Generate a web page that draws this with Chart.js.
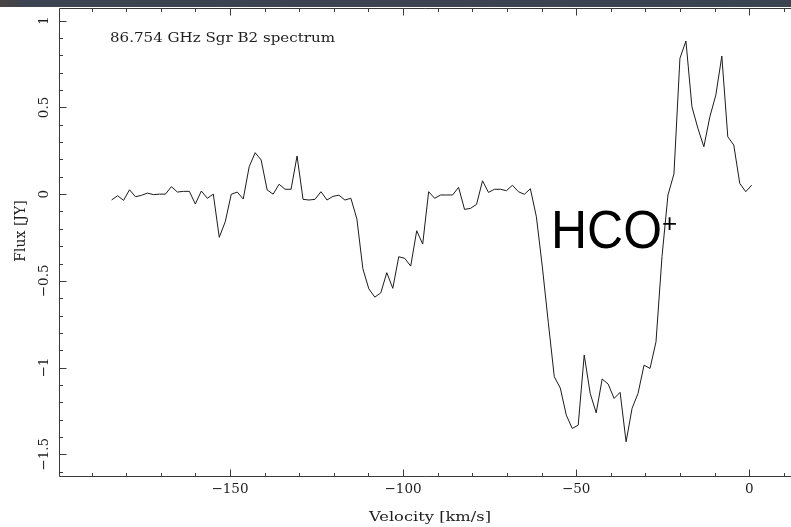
<!DOCTYPE html>
<html>
<head>
<meta charset="utf-8">
<script src="https://cdn.jsdelivr.net/npm/chart.js@4/dist/chart.umd.min.js"></script>
<style>
  html, body { margin: 0; padding: 0; background: #ffffff; }
  #wrap { width: 791px; height: 527px; position: relative; }
  canvas { display: block; }
</style>
</head>
<body>
<div id="wrap"><canvas id="spec" width="791" height="527"></canvas></div>
<script>
// Channel velocities (km/s) of the 86.754 GHz spectrum
const velocity = [
  -184.20, -182.47, -180.74, -179.02, -177.29, -175.56, -173.83, -172.10, -170.38, -168.65,
  -166.92, -165.19, -163.46, -161.74, -160.01, -158.28, -156.55, -154.82, -153.10, -151.37,
  -149.64, -147.91, -146.18, -144.46, -142.73, -141.00, -139.27, -137.54, -135.82, -134.09,
  -132.36, -130.63, -128.90, -127.18, -125.45, -123.72, -121.99, -120.26, -118.54, -116.81,
  -115.08, -113.35, -111.62, -109.90, -108.17, -106.44, -104.71, -102.98, -101.26, -99.53,
  -97.80, -96.07, -94.34, -92.62, -90.89, -89.16, -87.43, -85.70, -83.98, -82.25,
  -80.52, -78.79, -77.06, -75.34, -73.61, -71.88, -70.15, -68.42, -66.70, -64.97,
  -63.24, -61.51, -59.78, -58.06, -56.33, -54.60, -52.87, -51.14, -49.42, -47.69,
  -45.96, -44.23, -42.50, -40.78, -39.05, -37.32, -35.59, -33.86, -32.14, -30.41,
  -28.68, -26.95, -25.22, -23.50, -21.77, -20.04, -18.31, -16.58, -14.86, -13.13,
  -11.40, -9.67, -7.94, -6.22, -4.49, -2.76, -1.03, 0.70
];

// Flux density per channel (Jy)
const flux = [
  -0.034, -0.009, -0.036, 0.025, -0.015, -0.007, 0.006, -0.003, 0.000, 0.000,
  0.043, 0.012, 0.016, 0.016, -0.057, 0.018, -0.024, 0.000, -0.249, -0.159,
  -0.001, 0.012, -0.028, 0.158, 0.239, 0.197, 0.024, 0.000, 0.057, 0.028,
  0.028, 0.220, -0.030, -0.034, -0.030, 0.014, -0.034, -0.013, -0.006, -0.034,
  -0.024, -0.143, -0.430, -0.546, -0.594, -0.569, -0.453, -0.543, -0.361, -0.370,
  -0.415, -0.211, -0.288, 0.014, -0.024, -0.005, -0.005, -0.005, 0.039, -0.088,
  -0.082, -0.059, 0.077, 0.010, 0.028, 0.028, 0.020, 0.051, 0.014, -0.001,
  0.031, -0.130, -0.420, -0.740, -1.053, -1.118, -1.274, -1.351, -1.332, -0.928,
  -1.149, -1.261, -1.066, -1.095, -1.178, -1.143, -1.428, -1.235, -1.149, -0.986,
  -1.005, -0.851, -0.360, -0.005, 0.116, 0.783, 0.883, 0.504, 0.380, 0.273,
  0.446, 0.571, 0.796, 0.331, 0.283, 0.062, 0.014, 0.052
];

// Axis ticks and their labels
const xMajorTicks = [-150, -100, -50, 0];
const xTickLabels = ['\u2212150', '\u2212100', '\u221250', '0'];
const yMajorTicks = [-1.5, -1, -0.5, 0, 0.5, 1];
const yTickLabels = ['\u22121.5', '\u22121', '\u22120.5', '0', '0.5', '1'];
const xMinorStep = 10;
const yMinorStep = 0.1;

const titleText = '86.754 GHz Sgr B2 spectrum';
const xAxisTitle = 'Velocity [km/s]';
const yAxisTitle = 'Flux [JY]';
const lineName = 'HCO';

const points = velocity.map((v, i) => ({ x: v, y: flux[i] }));

const INK = '#1e1e1e';
const SERIF = '"DejaVu Serif", "Liberation Serif", serif';

// Text drawn at a given spot, stretched horizontally to a set width
function wideText(ctx, text, x, y, width, align) {
  const w = ctx.measureText(text).width;
  const s = width / w;
  ctx.save();
  ctx.translate(x, y);
  ctx.scale(s, 1);
  ctx.textAlign = align;
  ctx.fillText(text, 0, 0);
  ctx.restore();
}

// Boxed frame with inward ticks, drawn from the chart's own scales
const framePlugin = {
  id: 'pgFrame',
  beforeDraw(chart) {
    const ctx = chart.ctx;
    ctx.save();
    ctx.fillStyle = '#ffffff';
    ctx.fillRect(0, 0, chart.width, chart.height);
    const g = ctx.createLinearGradient(0, 0, chart.width, 0);
    g.addColorStop(0, '#4a4440');
    g.addColorStop(0.03, '#3b4450');
    g.addColorStop(0.5, '#3d4350');
    g.addColorStop(1, '#3a4450');
    ctx.fillStyle = g;
    ctx.fillRect(0, 0, chart.width, 7);
    ctx.restore();
  },
  afterDraw(chart) {
    const ctx = chart.ctx;
    const a = chart.chartArea;
    const xs = chart.scales.x;
    const ys = chart.scales.y;
    const L = Math.round(a.left) + 0.5;
    const T = Math.round(a.top) + 0.5;
    const B = Math.round(a.bottom) - 0.5;
    const R = chart.width;

    ctx.save();
    ctx.strokeStyle = '#3a3a3a';
    ctx.lineWidth = 1;
    ctx.beginPath();
    ctx.moveTo(L, B); ctx.lineTo(L, T); ctx.lineTo(R, T);
    ctx.moveTo(L, B); ctx.lineTo(R, B);
    ctx.stroke();

    // x ticks: bottom and top edges
    ctx.beginPath();
    for (let v = -190; v <= xs.max; v += xMinorStep) {
      const px = Math.round(xs.getPixelForValue(v)) + 0.5;
      if (px <= L + 1) continue;
      const major = xMajorTicks.includes(v);
      const len = major ? 7 : 3.5;
      ctx.moveTo(px, B); ctx.lineTo(px, B - len);
      ctx.moveTo(px, T); ctx.lineTo(px, T + len);
    }
    // y ticks: left edge
    for (let k = -16; k <= 10; k++) {
      const v = k * yMinorStep;
      const py = Math.round(ys.getPixelForValue(v)) + 0.5;
      const major = (k % 5 === 0);
      const len = major ? 7 : 3.5;
      ctx.moveTo(L, py); ctx.lineTo(L + len, py);
    }
    ctx.stroke();

    // tick labels
    ctx.fillStyle = INK;
    ctx.font = '13.5px ' + SERIF;
    ctx.textAlign = 'center';
    ctx.textBaseline = 'middle';
    xMajorTicks.forEach((v, i) => {
      ctx.fillText(xTickLabels[i], xs.getPixelForValue(v), 489);
    });
    yMajorTicks.forEach((v, i) => {
      ctx.save();
      ctx.translate(44, ys.getPixelForValue(v));
      ctx.rotate(-Math.PI / 2);
      ctx.fillText(yTickLabels[i], 0, 0);
      ctx.restore();
    });

    // axis titles
    ctx.font = '13.5px ' + SERIF;
    wideText(ctx, xAxisTitle, 430, 517, 122, 'center');
    ctx.save();
    ctx.translate(21, 231);
    ctx.rotate(-Math.PI / 2);
    ctx.font = '14px ' + SERIF;
    ctx.textAlign = 'center';
    ctx.fillText(yAxisTitle, 0, 0);
    ctx.restore();

    // plot title
    ctx.font = '13.5px ' + SERIF;
    ctx.textBaseline = 'alphabetic';
    wideText(ctx, titleText, 110, 41.5, 225, 'left');

    // molecule label
    ctx.fillStyle = '#000000';
    ctx.font = '54px "Liberation Sans", Arial, sans-serif';
    ctx.textAlign = 'left';
    const w = ctx.measureText(lineName).width;
    ctx.save();
    ctx.translate(551, 248);
    ctx.scale(111 / w, 1);
    ctx.fillText(lineName, 0, 0);
    ctx.restore();
    ctx.font = '26px "Liberation Sans", Arial, sans-serif';
    ctx.textBaseline = 'middle';
    ctx.fillText('+', 662, 225);
    ctx.restore();
  }
};

new Chart(document.getElementById('spec'), {
  type: 'scatter',
  data: {
    datasets: [{
      data: points,
      showLine: true,
      borderColor: '#1c1c1c',
      borderWidth: 1,
      pointRadius: 0,
      tension: 0,
      fill: false
    }]
  },
  options: {
    responsive: false,
    animation: false,
    devicePixelRatio: 1,
    layout: { padding: { left: 59, top: 8, right: 0, bottom: 50 } },
    plugins: { legend: { display: false }, tooltip: { enabled: false } },
    scales: {
      x: { type: 'linear', display: false, min: -199.39, max: 12.04 },
      y: { type: 'linear', display: false, min: -1.631, max: 1.0732 }
    }
  },
  plugins: [framePlugin]
});
</script>
</body>
</html>
